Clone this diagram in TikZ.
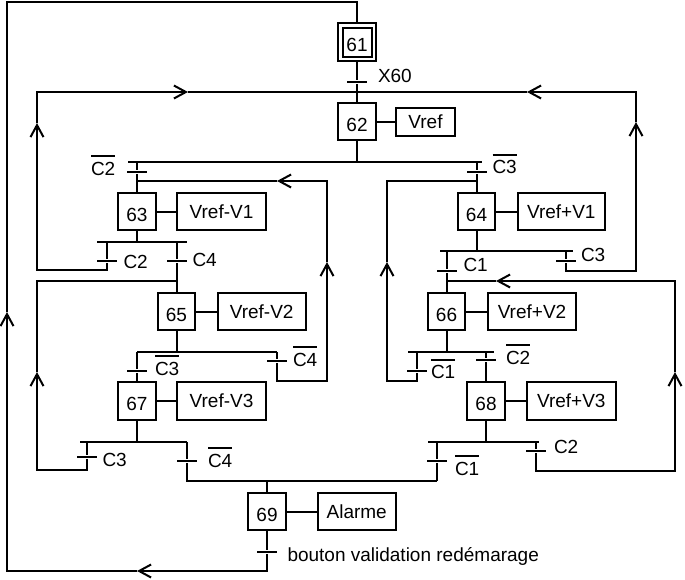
\documentclass[tikz,border=0pt]{standalone}
\usepackage{fontspec}
\setmainfont{Liberation Sans}
\usetikzlibrary{arrows.meta,positioning}

\newcommand{\nonv}[1]{\vbox{\hrule height 2pt\kern 4.5pt\hbox{#1}}}

\begin{document}
\begin{tikzpicture}[x=1pt, y=-1pt, line width=2pt,
	every node/.style={font=\fontsize{19}{22}\selectfont, inner sep=0pt},
	etape/.style={rectangle, draw, minimum width=37.5pt, minimum height=37.5pt, text height=19pt, text depth=0pt},
	action/.style={rectangle, draw, minimum height=37.5pt},
	trans/.style={rectangle, fill, minimum width=20pt, minimum height=2pt},
	lbl/.style={anchor=base west},
	fleche/.style={-{Straight Barb[length=12pt, width=13pt]}}]
	\useasboundingbox (0,0) rectangle (685,579);

	\node[etape, double, double distance=2.5pt, minimum size=33.5pt, outer sep=3.25pt] (e61) at (357,42) {61};
	\node[etape] (e62) at (357,121.5) {62};
	\node[action, minimum width=59pt, minimum height=28pt] (a62) at (425.5,121.5) {Vref};
	\node[etape] (e63) at (137,211.5) {63};
	\node[action, minimum width=89.5pt] (a63) at (221.5,211.5) {Vref-V1};
	\node[etape] (e64) at (476.5,211.5) {64};
	\node[action, minimum width=87.5pt] (a64) at (561.3,211.5) {Vref+V1};
	\node[etape] (e65) at (176.5,311.5) {65};
	\node[action, minimum width=88pt] (a65) at (261.7,311.5) {Vref-V2};
	\node[etape] (e66) at (446.5,311.5) {66};
	\node[action, minimum width=88.5pt] (a66) at (532,311.5) {Vref+V2};
	\node[etape] (e67) at (137,401) {67};
	\node[action, minimum width=89.5pt] (a67) at (221.5,401) {Vref-V3};
	\node[etape] (e68) at (486,401) {68};
	\node[action, minimum width=88.5pt] (a68) at (571.3,401) {Vref+V3};
	\node[etape] (e69) at (267,511.5) {69};
	\node[action, minimum width=78pt] (a69) at (356.7,511.5) {Alarme};

	\node[trans] (t60) at (357,82) {};
	\node[trans] (t62a) at (137,172) {};
	\node[trans] (t62b) at (476.5,172) {};
	\node[trans] (t63a) at (107,261) {};
	\node[trans] (t63b) at (176.5,261) {};
	\node[trans] (t64a) at (446.5,271) {};
	\node[trans] (t64b) at (566,261) {};
	\node[trans] (t65a) at (137,371) {};
	\node[trans] (t65b) at (277,361) {};
	\node[trans] (t66a) at (417,371) {};
	\node[trans] (t66b) at (486,360) {};
	\node[trans] (t67a) at (87,457) {};
	\node[trans] (t67b) at (187,461) {};
	\node[trans] (t68a) at (437,461) {};
	\node[trans] (t68b) at (536,451) {};
	\node[trans] (t69) at (267,552) {};

	\node[lbl] (l60) at (377,82) {X60};
	\node[lbl] (l62a) at (90,175) {\nonv{C2}};
	\node[lbl] (l62b) at (491.5,173.5) {\nonv{C3}};
	\node[lbl] (l63a) at (122.5,268.5) {C2};
	\node[lbl] (l63b) at (191.5,266) {C4};
	\node[lbl] (l64a) at (462.5,271) {C1};
	\node[lbl] (l64b) at (580,261) {C3};
	\node[lbl] (l65a) at (154,375) {\nonv{C3}};
	\node[lbl] (l65b) at (292,366) {\nonv{C4}};
	\node[lbl] (l66a) at (430,378.5) {\nonv{C1}};
	\node[lbl] (l66b) at (505,364) {\nonv{C2}};
	\node[lbl] (l67a) at (101.5,466) {C3};
	\node[lbl] (l67b) at (207,467) {\nonv{C4}};
	\node[lbl] (l68a) at (454,475) {\nonv{C1}};
	\node[lbl] (l68b) at (553,453) {C2};
	\node[lbl] (l69) at (286.5,561.5) {bouton validation redémarage};

	\coordinate (f1) at (188,92);
	\coordinate (f2) at (527,92);
	\coordinate (f3) at (37,123);
	\coordinate (f4) at (636,122);
	\coordinate (f5) at (277,181);
	\coordinate (f6) at (327,262);
	\coordinate (f7) at (387,262);
	\coordinate (f8) at (496,281);
	\coordinate (f9) at (37,372);
	\coordinate (f10) at (675,372);
	\coordinate (f11) at (7,312);
	\coordinate (f12) at (137,571);

	\draw (e61) -- (t60) -- (e62);
	\draw (e62) -- (a62);
	\draw (e62) -- (357,162);
	\draw (128,162) -- (482,162);
	\draw (137,162) -- (t62a) -- (e63);
	\draw (476.5,162) -- (t62b) -- (e64);

	\draw[fleche] (107,242) -- (t63a) |- (37,270) -- (f3);
	\draw[fleche] (f3) -- (37,92) -- (f1);
	\draw (f1) -- (357,92);
	\draw[fleche] (566,251) -- (t64b) |- (636,271) -- (f4);
	\draw[fleche] (f4) -- (636,92) -- (f2);
	\draw (f2) -- (357,92);

	\draw (e63) -- (a63);
	\draw (e63) -- (137,242);
	\draw (97,242) -- (187,242);
	\draw (176.5,242) -- (t63b) -- (e65);

	\draw (e65) -- (a65);
	\draw (e65) -- (176.5,352);
	\draw (137,352) -- (277,352);
	\draw (137,352) -- (t65a) -- (e67);
	\draw[fleche] (277,352) -- (t65b) |- (327,381) -- (f6);
	\draw[fleche] (f6) -- (327,181) -- (f5);
	\draw (f5) -- (137,181);

	\draw (e67) -- (a67);
	\draw (e67) -- (137,442);
	\draw (80,442) -- (187,442);
	\draw[fleche] (87,442) -- (t67a) |- (37,470) -- (f9);
	\draw (f9) -- (37,281) -- (176.5,281);
	\draw (187,442) -- (t67b) |- (437,481);

	\draw (e64) -- (a64);
	\draw (e64) -- (476.5,251);
	\draw (440,251) -- (573,251);
	\draw (446.5,251) -- (t64a) -- (e66);

	\draw (e66) -- (a66);
	\draw (e66) -- (446.5,352);
	\draw (408,352) -- (494,352);
	\draw[fleche] (417,352) -- (t66a) |- (387,381) -- (f7);
	\draw (f7) -- (387,181) -- (476.5,181);
	\draw (486,352) -- (t66b) -- (e68);

	\draw (e68) -- (a68);
	\draw (e68) -- (486,442);
	\draw (428,442) -- (539,442);
	\draw (437,442) -- (t68a) -- (437,481);
	\draw[fleche] (536,442) -- (t68b) |- (675,471) -- (f10);
	\draw[fleche] (f10) -- (675,281) -- (f8);
	\draw (f8) -- (446.5,281);

	\draw (267,481) -- (e69);
	\draw (e69) -- (a69);
	\draw[fleche] (e69) -- (t69) |- (f12);
	\draw[fleche] (f12) -- (7,571) -- (f11);
	\draw (f11) -- (7,2) -| (e61);
\end{tikzpicture}
\end{document}
